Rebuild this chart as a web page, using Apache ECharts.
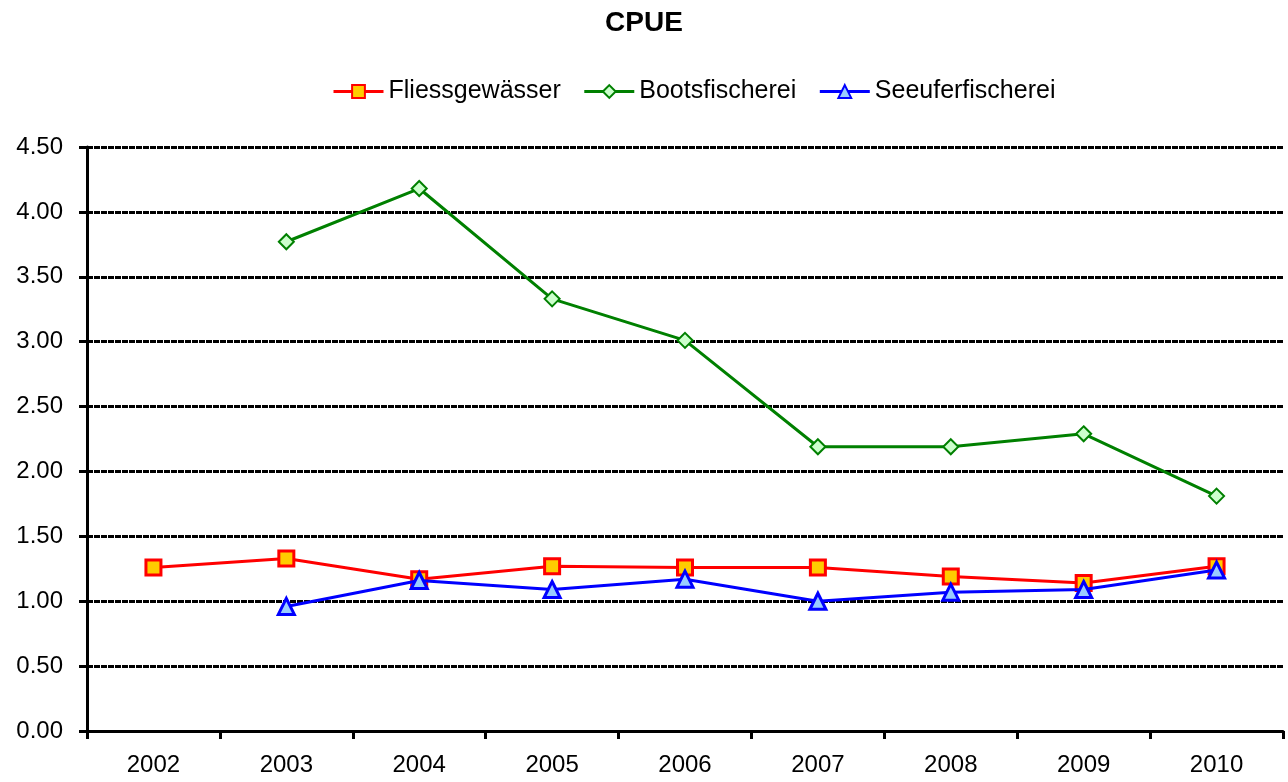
<!DOCTYPE html>
<html>
<head>
<meta charset="utf-8">
<script src="https://cdn.jsdelivr.net/npm/echarts@6/dist/echarts.min.js"></script>
<style>
    html, body {margin: 0; padding: 0; background: #fff;}
    #chart {width: 1288px; height: 782px;}
</style>
</head>
<body>
<div id="chart"></div>
<script>
//年份
var years = ['2002', '2003', '2004', '2005', '2006', '2007', '2008', '2009', '2010'];
//各系列数值
var fliessgewaesser = [1.26, 1.33, 1.17, 1.27, 1.26, 1.26, 1.19, 1.14, 1.27];
var bootsfischerei = [null, 3.77, 4.18, 3.33, 3.01, 2.19, 2.19, 2.29, 1.81];
var seeuferfischerei = [null, 0.96, 1.16, 1.09, 1.17, 1.00, 1.07, 1.09, 1.24];

var font = 'Liberation Sans, Arial, sans-serif';
var chart = echarts.init(document.getElementById('chart'));
var option = {
    backgroundColor: '#fff',
    animation: false,
    title: {
        text: 'CPUE',
        left: 'center',
        top: 4,
        textStyle: {fontFamily: font, fontSize: 28, fontWeight: 'bold', color: '#000'}
    },
    legend: {
        top: 74,
        left: 327,
        itemWidth: 50,
        itemHeight: 16,
        itemGap: 22,
        lineStyle: {width: 3},
        textStyle: {fontFamily: font, fontSize: 25, color: '#000'},
        data: ['Fliessgewässer', 'Bootsfischerei', 'Seeuferfischerei']
    },
    grid: {left: 87, right: 5, top: 147, bottom: 51},
    xAxis: {
        type: 'category',
        data: years,
        boundaryGap: true,
        axisLine: {lineStyle: {color: '#000', width: 3}},
        axisTick: {show: true, length: 8, inside: false, lineStyle: {color: '#000', width: 3}},
        axisLabel: {fontFamily: font, fontSize: 24, color: '#000', margin: 22},
        splitLine: {show: false}
    },
    yAxis: {
        type: 'value',
        min: 0,
        max: 4.5,
        interval: 0.5,
        axisLine: {show: true, lineStyle: {color: '#000', width: 3}},
        axisTick: {show: true, length: 8, lineStyle: {color: '#000', width: 3}},
        axisLabel: {
            fontFamily: font, fontSize: 24, color: '#000', margin: 24,
            formatter: function (v) { return v.toFixed(2); }
        },
        splitLine: {show: true, lineStyle: {color: '#000', width: 3, type: [6, 1]}}
    },
    series: [
        {
            name: 'Fliessgewässer',
            type: 'line',
            data: fliessgewaesser,
            symbol: 'rect',
            symbolSize: 15,
            lineStyle: {color: '#ff0000', width: 3},
            itemStyle: {color: '#ffcc00', borderColor: '#ff0000', borderWidth: 3},
            z: 3
        },
        {
            name: 'Bootsfischerei',
            type: 'line',
            data: bootsfischerei,
            symbol: 'diamond',
            symbolSize: 15,
            lineStyle: {color: '#008000', width: 3},
            itemStyle: {color: '#ccffcc', borderColor: '#008000', borderWidth: 2},
            z: 2
        },
        {
            name: 'Seeuferfischerei',
            type: 'line',
            data: seeuferfischerei,
            symbol: 'triangle',
            symbolSize: 16,
            lineStyle: {color: '#0000ff', width: 3},
            itemStyle: {color: '#99ccff', borderColor: '#0000ff', borderWidth: 3},
            z: 4
        }
    ]
};
chart.setOption(option);
</script>
</body>
</html>
